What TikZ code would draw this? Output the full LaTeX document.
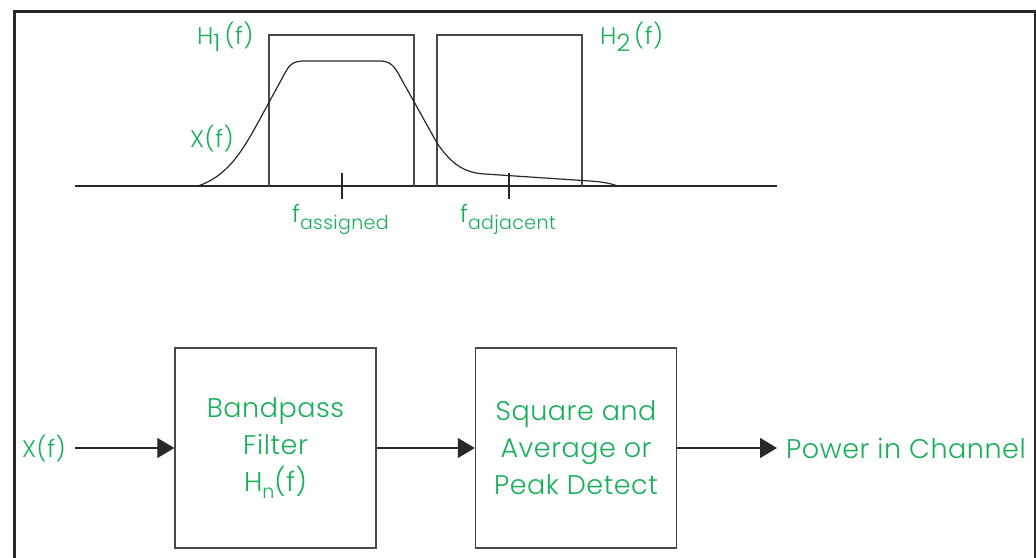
\documentclass[tikz,border=0pt]{standalone}
\usepackage{fontspec}
\setmainfont{Poppins Light}[LetterSpace=2]
\usetikzlibrary{arrows.meta}
\definecolor{lbl}{RGB}{25,175,90}
\definecolor{ln}{RGB}{40,40,40}
\tikzset{
  frameline/.style={draw=ln, line width=3pt},
  boxline/.style={draw=ln!85!white, line width=1.4pt},
  curveline/.style={draw=ln, line width=1.2pt},
  toplbl/.style={text=lbl, inner sep=0pt, font=\fontsize{24}{28}\selectfont},
  botlbl/.style={text=lbl, inner sep=0pt, font=\fontsize{27}{37}\selectfont},
  blockbox/.style={boxline, minimum width=201pt, minimum height=200pt, inner sep=0pt,
     text=lbl, align=center, font=\fontsize{27}{37}\selectfont},
  arr/.style={draw=ln, line width=1.2pt, -{Triangle[length=17pt, width=20pt]}}
}
\newcommand{\lowsub}[1]{\raisebox{-7pt}{#1}}
\newcommand{\smallsub}[1]{\raisebox{-7pt}{\fontsize{19}{22}\selectfont #1}}
\begin{document}
\begin{tikzpicture}[x=1pt, y=-1pt]
\useasboundingbox (0,0) rectangle (1036,557);
\fill[white] (0,0) rectangle (1036,557);
% frame
\draw[frameline] (14,560) -- (14,11) -- (1035,11) -- (1035,560);
% axis
\coordinate (ax0) at (75,186);
\coordinate (ax1) at (777,186);
\draw[curveline] (ax0) -- (ax1);
% filter responses
\draw[boxline] (269,186) -- (269,35) -- (414,35) -- (414,186);
\draw[boxline] (437,186) -- (437,35) -- (582,35) -- (582,186);
% ticks
\draw[curveline] (342,173) -- (342,199);
\draw[curveline] (509,173) -- (509,199);
% spectrum X(f)
\draw[curveline] (198,186) .. controls (225,177) and (240,155) .. (255,128)
  -- (285,73) .. controls (290,63) and (295,61) .. (305,61)
  -- (378,61) .. controls (388,61) and (392,63) .. (398,73)
  -- (437,143) .. controls (452,165) and (465,173) .. (485,174)
  -- (590,181) .. controls (605,182) and (612,184) .. (618,186);
% top labels
\node[toplbl, anchor=base west] (h1) at (197,44) {H\lowsub{1}\,(f)};
\node[toplbl, anchor=base west] (h2) at (600,44) {H\lowsub{2}\,(f)};
\node[toplbl, anchor=base west] (xf) at (190,147) {X(f)};
\node[toplbl, anchor=base west] (fa) at (292,222) {f\smallsub{assigned}};
\node[toplbl, anchor=base west] (fj) at (460,222) {f\smallsub{adjacent}};
% block diagram
\node[toplbl, anchor=base west] (xin) at (22,457) {X(f)};
\coordinate (src) at (75,448);
\node[blockbox] (b1) at (275.5,448) {Bandpass\\Filter\\H\smallsub{n}(f)};
\node[blockbox] (b2) at (576,448) {Square and\\Average or\\Peak Detect};
\node[botlbl, anchor=base west] (out) at (786,458) {Power in Channel};
\coordinate (outp) at (777,448);
\draw[arr] (src) -- (b1.west);
\draw[arr] (b1.east) -- (b2.west);
\draw[arr] (b2.east) -- (outp);
\end{tikzpicture}
\end{document}
